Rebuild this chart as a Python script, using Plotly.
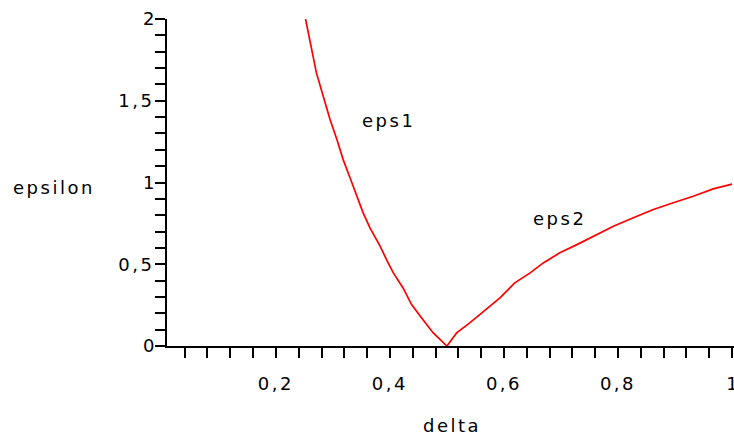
import plotly.graph_objects as go

# eps1 curve
eps1_delta = [0.252, 0.263, 0.271, 0.283, 0.295, 0.307, 0.318, 0.330, 0.342, 0.353,
              0.365, 0.383, 0.394, 0.406, 0.423, 0.438, 0.458, 0.476, 0.500]
eps1_eps = [2.0, 1.814, 1.672, 1.528, 1.385, 1.263, 1.140, 1.029, 0.916, 0.814,
            0.723, 0.610, 0.528, 0.447, 0.355, 0.253, 0.161, 0.080, 0.0]

# eps2 curve
eps2_delta = [0.500, 0.517, 0.540, 0.564, 0.593, 0.619, 0.646, 0.669, 0.698, 0.728,
              0.763, 0.792, 0.827, 0.862, 0.897, 0.932, 0.967, 1.000]
eps2_eps = [0.0, 0.080, 0.141, 0.212, 0.294, 0.386, 0.447, 0.508, 0.570, 0.620,
            0.681, 0.732, 0.784, 0.835, 0.876, 0.916, 0.961, 0.990]

x_tick_vals = [0.2, 0.4, 0.6, 0.8, 1.0]
x_tick_text = ["0,2", "0,4", "0,6", "0,8", "1"]
y_tick_vals = [0, 0.5, 1, 1.5, 2]
y_tick_text = ["0", "0,5", "1", "1,5", "2"]

FONT = "DejaVu Sans"
SP = "letter-spacing:2.5px"


def sp(t):
    if len(t) < 2:
        return t
    return f'<span style="{SP}">{t}</span>'


RED = "#ff0000"

fig = go.Figure()
fig.add_trace(go.Scatter(x=eps1_delta, y=eps1_eps, mode="lines",
                         line=dict(color=RED, width=1.7), name="eps1"))
fig.add_trace(go.Scatter(x=eps2_delta, y=eps2_eps, mode="lines",
                         line=dict(color=RED, width=1.7), name="eps2"))

axis_common = dict(showline=True, linecolor="black", linewidth=2,
                   ticks="outside", ticklen=10, tickwidth=2, tickcolor="black",
                   showgrid=False, zeroline=False, ticklabeloverflow="allow",
                   tickfont=dict(family=FONT, size=18, color="black"))

fig.update_xaxes(range=[0.009, 1.0035], tickmode="array",
                 tickvals=x_tick_vals, ticktext=[sp(t) for t in x_tick_text],
                 minor=dict(dtick=0.04, tick0=0, ticks="outside", ticklen=10,
                            tickwidth=2, tickcolor="black", showgrid=False),
                 ticklabelstandoff=10, **axis_common)
fig.update_yaxes(range=[0, 2], tickmode="array",
                 tickvals=y_tick_vals, ticktext=[sp(t) for t in y_tick_text],
                 minor=dict(dtick=0.1, tick0=0, ticks="outside", ticklen=10,
                            tickwidth=2, tickcolor="black", showgrid=False),
                 ticklabelstandoff=-3, **axis_common)

ann_font = dict(family=FONT, size=18, color="black")
fig.add_annotation(text=sp("epsilon"), xref="paper", yref="paper",
                   x=(11 - 167) / 567, y=(346 - 188) / 327,
                   xanchor="left", yanchor="middle", showarrow=False, font=ann_font)
fig.add_annotation(text=sp("delta"), xref="paper", yref="paper",
                   x=(452 - 167) / 567, y=(346 - 425) / 327,
                   xanchor="center", yanchor="middle", showarrow=False, font=ann_font)
fig.add_annotation(text=sp("eps1"), x=0.397, y=1.38, xanchor="center",
                   yanchor="middle", showarrow=False, font=ann_font)
fig.add_annotation(text=sp("eps2"), x=0.698, y=0.78, xanchor="center",
                   yanchor="middle", showarrow=False, font=ann_font)

fig.update_layout(width=734, height=438, showlegend=False,
                  margin=dict(l=167, r=0, t=19, b=92, autoexpand=False),
                  paper_bgcolor="white", plot_bgcolor="white",
                  font=dict(family=FONT, size=18, color="black"))

# remove the page's default body margin so the figure fills the window exactly
fig.write_html("out.html", config={"displayModeBar": False},
               post_script="document.body.style.margin='0';"
                           "document.body.style.overflow='hidden';")
